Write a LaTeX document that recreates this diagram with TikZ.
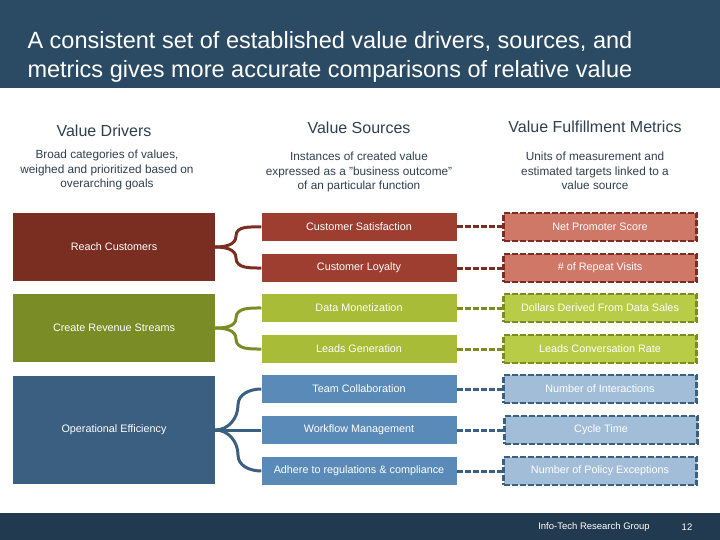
\documentclass[tikz,border=0pt]{standalone}
\usepackage{fontspec}
\setmainfont{Liberation Sans}
\begin{document}
\begin{tikzpicture}[x=1pt,y=-1pt,
  box/.style={draw=none,minimum height=28pt,inner sep=0pt,text=white,font=\fontsize{10.8}{12}\selectfont},
  mid/.style={box,minimum width=195pt},
  met/.style={box,minimum width=193pt,line width=2.5pt,dash pattern=on 6pt off 2pt},
  drv/.style={box,minimum width=202pt,text=white},
  brace/.style={line width=3pt},
  link/.style={line width=3pt,dash pattern=on 6pt off 2pt},
  head/.style={text=hd,font=\fontsize{16}{18}\selectfont},
  desc/.style={text=hd,align=center,font=\fontsize{11.8}{14.5}\selectfont}]
\definecolor{navy}{HTML}{2B4A63}
\definecolor{foot}{HTML}{223A50}
\definecolor{hd}{HTML}{2E3F4F}
\definecolor{rdk}{HTML}{7A2E22}
\definecolor{rmd}{HTML}{9E3E30}
\definecolor{rlt}{HTML}{D07868}
\definecolor{gdk}{HTML}{7A8C25}
\definecolor{gmd}{HTML}{A8BC38}
\definecolor{glt}{HTML}{B8CC48}
\definecolor{bdk}{HTML}{3A5F80}
\definecolor{bmd}{HTML}{5A8AB8}
\definecolor{blt}{HTML}{A2BDD8}
\useasboundingbox (0,0) rectangle (720,540);
\fill[navy] (0,0) rectangle (720,88);
\fill[foot] (0,513) rectangle (720,540);
\node[anchor=west,text=white,align=left,font=\fontsize{23.5}{29}\selectfont] (title) at (24,57) {A consistent set of established value drivers, sources, and\\metrics gives more accurate comparisons of relative value};
\node[text=white,font=\fontsize{9.5}{10}\selectfont] (ft) at (594,527) {Info-Tech Research Group};
\node[text=white,font=\fontsize{9.5}{10}\selectfont] (pg) at (687,527) {12};
% headings
\node[head] (h1) at (104,131) {Value Drivers};
\node[head] (h2) at (359,128) {Value Sources};
\node[head] (h3) at (595,127) {Value Fulfillment Metrics};
\node[desc] (d1) at (107,170) {Broad categories of values,\\weighed and prioritized based on\\overarching goals};
\node[desc] (d2) at (359,172) {Instances of created value\\expressed as a "business outcome"\\of an particular function};
\node[desc] (d3) at (595,171) {Units of measurement and\\estimated targets linked to a\\value source};
% drivers
\node[drv,fill=rdk,minimum height=68pt] (rc) at (114,247) {Reach Customers};
\node[drv,fill=gdk,minimum height=68pt] (cr) at (114,328) {Create Revenue Streams};
\node[drv,fill=bdk,minimum height=108pt] (oe) at (114,430) {Operational Efficiency};
% sources
\node[mid,fill=rmd] (s1) at (359,227) {Customer Satisfaction};
\node[mid,fill=rmd] (s2) at (359,268) {Customer Loyalty};
\node[mid,fill=gmd] (s3) at (359,308) {Data Monetization};
\node[mid,fill=gmd] (s4) at (359,349) {Leads Generation};
\node[mid,fill=bmd] (s5) at (359,389) {Team Collaboration};
\node[mid,fill=bmd] (s6) at (359,430) {Workflow Management};
\node[mid,fill=bmd] (s7) at (359,471) {Adhere to regulations \& compliance};
% metrics
\node[met,fill=rlt,draw=rdk] (m1) at (600,227) {Net Promoter Score};
\node[met,fill=rlt,draw=rdk] (m2) at (600,268) {\# of Repeat Visits};
\node[met,fill=glt,draw=gdk] (m3) at (600,308) {Dollars Derived From Data Sales};
\node[met,fill=glt,draw=gdk] (m4) at (600,349) {Leads Conversation Rate};
\node[met,fill=blt,draw=bdk] (m5) at (600,389) {Number of Interactions};
\node[met,fill=blt,draw=bdk] (m6) at (601,430) {Cycle Time};
\node[met,fill=blt,draw=bdk] (m7) at (600,471) {Number of Policy Exceptions};
% braces
\draw[brace,rdk] (rc.east) to[out=0,in=-90] (236,236) to[out=90,in=180] (s1.west);
\draw[brace,rdk] (rc.east) to[out=0,in=90] (236,258) to[out=-90,in=180] (s2.west);
\draw[brace,gdk] (cr.east) to[out=0,in=-90] (236,318) to[out=90,in=180] (s3.west);
\draw[brace,gdk] (cr.east) to[out=0,in=90] (236,339) to[out=-90,in=180] (s4.west);
\draw[brace,bdk] (oe.east) to[out=0,in=-90] (238,405) to[out=90,in=180] (s5.west);
\draw[brace,bdk] (oe.east) -- (s6.west);
\draw[brace,bdk] (oe.east) to[out=0,in=90] (238,455) to[out=-90,in=180] (s7.west);
% links
\draw[link,rdk] (s1.east) -- (m1.west);
\draw[link,rdk] (s2.east) -- (m2.west);
\draw[link,gdk] (s3.east) -- (m3.west);
\draw[link,gdk] (s4.east) -- (m4.west);
\draw[link,bdk] (s5.east) -- (m5.west);
\draw[link,bdk] (s6.east) -- (m6.west);
\draw[link,bdk] (s7.east) -- (m7.west);
\end{tikzpicture}
\end{document}
